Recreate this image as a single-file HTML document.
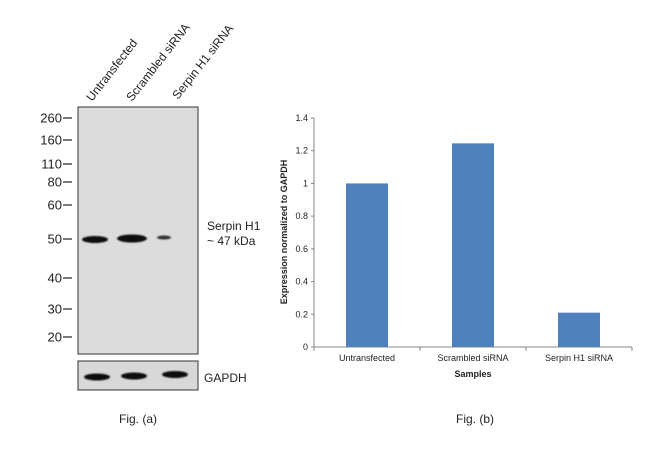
<!DOCTYPE html>
<html><head><meta charset="utf-8"><style>
body{margin:0;background:#fff;width:650px;height:463px;overflow:hidden;font-family:"Liberation Sans",sans-serif}
svg text{font-family:"Liberation Sans",sans-serif}
</style></head><body>
<svg width="650" height="463" xmlns="http://www.w3.org/2000/svg">
<defs><filter id="bl"><feGaussianBlur stdDeviation="0.8"/></filter></defs>
<g>
 <rect x="78" y="107" width="120" height="247" fill="#dcdcdc" stroke="#333" stroke-width="1"/>
 <rect x="78" y="361" width="120" height="29" fill="#d8d8d8" stroke="#333" stroke-width="1"/>
 <g filter="url(#bl)" fill="#111">
  <ellipse cx="95" cy="239.5" rx="13" ry="3.5"/>
  <ellipse cx="132" cy="238.5" rx="15" ry="4"/>
  <ellipse cx="164" cy="237.5" rx="7" ry="2" fill="#333"/>
  <ellipse cx="97" cy="377" rx="13" ry="3.5"/>
  <ellipse cx="134" cy="376" rx="13" ry="3.5"/>
  <ellipse cx="175" cy="374.5" rx="13" ry="3.5"/>
 </g>
 <g font-size="13" fill="#222" text-anchor="end" id="markers"></g>
 <g font-size="12" fill="#222">
  <text transform="translate(92,102) rotate(-52)">Untransfected</text>
  <text transform="translate(132,102) rotate(-52)">Scrambled siRNA</text>
  <text transform="translate(178,100) rotate(-52)">Serpin H1 siRNA</text>
 </g>
 <text x="207" y="230" font-size="12" fill="#222">Serpin H1</text>
 <text x="207" y="245" font-size="12" fill="#222">~ 47 kDa</text>
 <text x="204" y="382" font-size="12" fill="#222">GAPDH</text>
 <text x="138" y="423" font-size="12" fill="#222" text-anchor="middle">Fig. (a)</text>
</g>
<g id="chart">
 <text x="475" y="423" font-size="12" fill="#222" text-anchor="middle">Fig. (b)</text>
 <text transform="translate(287,232) rotate(-90)" font-size="9" font-weight="bold" fill="#222" text-anchor="middle">Expression  normalized to GAPDH</text>
 <text x="473" y="377" font-size="9" font-weight="bold" fill="#222" text-anchor="middle">Samples</text>
</g>
</svg>
<script>
const markerValues=["260","160","110","80","60","50","40","30","20"];
const markerY=[118,140,164,182,205,239,278,309,337];
const categories=["Untransfected","Scrambled siRNA","Serpin H1 siRNA"];
const values=[1.0,1.245,0.21];
const yTicks=[0,0.2,0.4,0.6,0.8,1,1.2,1.4];
const NS="http://www.w3.org/2000/svg";
function mk(t,a,p){const e=document.createElementNS(NS,t);for(const k in a)e.setAttribute(k,a[k]);p.appendChild(e);return e;}
const mg=document.getElementById('markers');
markerValues.forEach((m,i)=>{
 const t=mk('text',{x:62,y:markerY[i]+4.5},mg);t.textContent=m;
 
 
 const l=mk('line',{x1:63,x2:72,y1:markerY[i],y2:markerY[i],stroke:'#222','stroke-width':1.2},mg);
 
 
});
const ch=document.getElementById('chart');
const x0=314,x1=632,y0=347,y1=118,yMax=1.4;
const Y=v=>y0-(v/yMax)*(y0-y1);
const bw=(x1-x0)/categories.length;
const X=i=>x0+bw*(i+0.5);
const ax=mk('line',{x1:x0,x2:x0,y1:y1,y2:y0,stroke:'#888'},ch);


const bx=mk('line',{x1:x0,x2:x1,y1:y0,y2:y0,stroke:'#888'},ch);


yTicks.forEach(v=>{
 const l=mk('line',{x1:x0-3,x2:x0,y1:Y(v),y2:Y(v),stroke:'#888'},ch);
 
 
 const t=mk('text',{x:x0-6,y:Y(v)+3,'font-size':9,fill:'#222','text-anchor':'end'},ch);t.textContent=String(v);
 
 
});
for(let i=0;i<=categories.length;i++){
 const l=mk('line',{x1:x0+bw*i,x2:x0+bw*i,y1:y0,y2:y0+4,stroke:'#888'},ch);
 
 
}
categories.forEach((c,i)=>{
 const r=mk('rect',{x:X(i)-21,y:Y(values[i]),width:42,height:y0-Y(values[i]),fill:'#4f81bd'},ch);
 
 
 const t=mk('text',{x:X(i),y:361,'font-size':9,fill:'#222','text-anchor':'middle'},ch);t.textContent=c;
 
 
});
</script>
</body></html>
